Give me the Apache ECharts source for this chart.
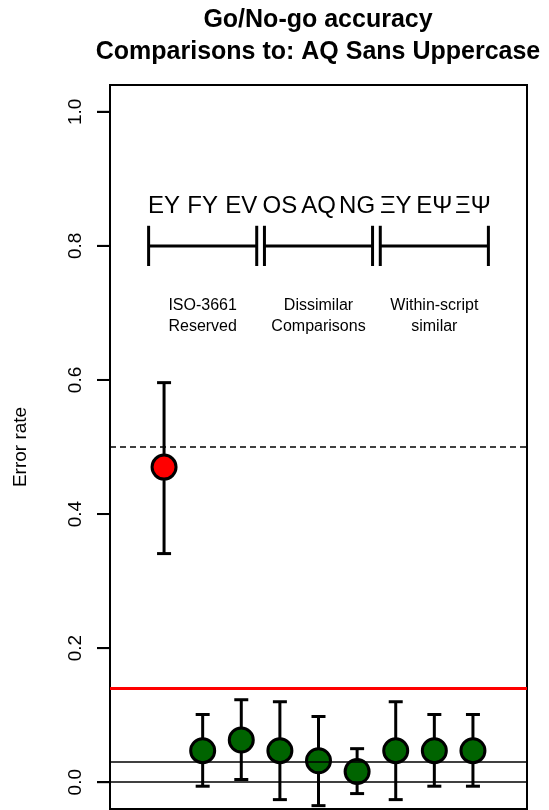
<!DOCTYPE html>
<html>
<head>
<meta charset="utf-8">
<script src="https://cdn.jsdelivr.net/npm/echarts@6/dist/echarts.min.js"></script>
<style>
  html, body { margin: 0; padding: 0; background: #ffffff; }
  #chart { width: 549px; height: 810px; }
</style>
</head>
<body>
<div id="chart"></div>
<script>
// Comparison pairs, in plotting order (x = 1..9)
const positions = [1, 2, 3, 4, 5, 6, 7, 8, 9];
const pairLabels = ['EY', 'FY', 'EV', 'OS', 'AQ', 'NG', 'ΞY', 'EΨ', 'ΞΨ'];

// Go/No-go error rate per pair with confidence interval bounds
const errorRate = [0.470, 0.047, 0.063, 0.047, 0.032, 0.016, 0.047, 0.047, 0.047];
const ciLower   = [0.341, -0.006, 0.004, -0.026, -0.035, -0.017, -0.026, -0.006, -0.006];
const ciUpper   = [0.596, 0.101, 0.123, 0.120, 0.098, 0.050, 0.120, 0.101, 0.101];
const pointGroup = ['reserved', 'ok', 'ok', 'ok', 'ok', 'ok', 'ok', 'ok', 'ok'];

// Comparison groups: bracket extents and captions
const groupStart = [0.6, 3.6, 6.6];
const groupEnd   = [3.4, 6.4, 9.4];
const groupCenter = [2, 5, 8];
const groupLabels = ['ISO-3661\nReserved', 'Dissimilar\nComparisons', 'Within-script\nsimilar'];
const bracketLevel = 0.8;
const bracketHalf = 0.03;
const pairLabelLevel = 0.859;
const groupLabelLevel = 0.695;

// Reference levels
const chanceLevel = 0.5;
const thresholdLevel = 0.14;
const baselineLevels = [0, 0.03];

// Axis
const yTicks = [0, 0.2, 0.4, 0.6, 0.8, 1.0];
const yMin = -0.04, yMax = 1.04;
const xMin = -0.4, xMax = 10.4;

const FONT = '"Liberation Sans", Arial, Helvetica, sans-serif';
const colorFor = { reserved: '#ff0000', ok: '#006400' };
const TICK_LEN = 13;

const chart = echarts.init(document.getElementById('chart'), null, { renderer: 'canvas' });

const pointData = positions.map((x, i) => ({
  value: [x, errorRate[i]],
  itemStyle: { color: colorFor[pointGroup[i]] }
}));

const errorBarData = positions.map((x, i) => [x, ciLower[i], ciUpper[i]]);
const bracketData = groupStart.map((s, i) => [s, groupEnd[i], bracketLevel]);
const pairTextData = positions.map((x, i) => [x, pairLabelLevel, pairLabels[i]]);
const groupTextData = groupCenter.map((x, i) => [x, groupLabelLevel, groupLabels[i]]);
const tickData = yTicks.map(v => [xMin, v]);

const option = {
  animation: false,
  backgroundColor: '#ffffff',
  graphic: [{
    type: 'text',
    x: 318,
    y: 36,
    style: {
      text: 'Go/No-go accuracy\nComparisons to: AQ Sans Uppercase',
      font: 'bold 25px ' + FONT,
      fill: '#000',
      align: 'center',
      verticalAlign: 'middle',
      lineHeight: 32
    }
  }],
  grid: {
    left: 110, right: 22, top: 85, bottom: 1,
    show: true, borderColor: '#000', borderWidth: 2
  },
  xAxis: {
    type: 'value', min: xMin, max: xMax,
    show: false
  },
  yAxis: {
    type: 'value', min: yMin, max: yMax,
    name: 'Error rate',
    nameLocation: 'middle',
    nameRotate: 90,
    nameGap: 80,
    nameTextStyle: { fontFamily: FONT, fontSize: 19, color: '#000' },
    axisLine: { show: false, onZero: false },
    splitLine: { show: false },
    axisTick: {
      show: true, length: TICK_LEN, customValues: yTicks,
      lineStyle: { color: '#000', width: 2 }
    },
    axisLabel: {
      customValues: yTicks, rotate: 90, margin: 25,
      fontFamily: FONT, fontSize: 19, color: '#000',
      formatter: v => v.toFixed(1)
    }
  },
  series: [
    {
      // outward tick marks on the left edge of the plot box
      type: 'custom',
      clip: false,
      z: 10,
      data: tickData,
      renderItem: (params, api) => {
        const p = api.coord([api.value(0), api.value(1)]);
        return {
          type: 'line',
          shape: { x1: p[0] - TICK_LEN, y1: p[1], x2: p[0], y2: p[1] },
          style: { stroke: '#000', lineWidth: 2 }
        };
      }
    },
    {
      // group brackets
      type: 'custom',
      silent: true,
      z: 2,
      data: bracketData,
      renderItem: (params, api) => {
        const a = api.coord([api.value(0), api.value(2)]);
        const b = api.coord([api.value(1), api.value(2)]);
        const top = api.coord([api.value(0), api.value(2) + bracketHalf])[1];
        const bot = api.coord([api.value(0), api.value(2) - bracketHalf])[1];
        const st = { stroke: '#000', lineWidth: 3 };
        return {
          type: 'group',
          children: [
            { type: 'line', shape: { x1: a[0], y1: a[1], x2: b[0], y2: b[1] }, style: st },
            { type: 'line', shape: { x1: a[0], y1: top, x2: a[0], y2: bot }, style: st },
            { type: 'line', shape: { x1: b[0], y1: top, x2: b[0], y2: bot }, style: st }
          ]
        };
      }
    },
    {
      // pair labels above the brackets
      type: 'custom',
      silent: true,
      z: 2,
      data: pairTextData,
      renderItem: (params, api) => {
        const p = api.coord([api.value(0), api.value(1)]);
        return {
          type: 'text', x: p[0], y: p[1],
          style: {
            text: pairTextData[params.dataIndex][2],
            font: '24px ' + FONT, fill: '#000',
            align: 'center', verticalAlign: 'middle'
          }
        };
      }
    },
    {
      // group captions
      type: 'custom',
      silent: true,
      z: 2,
      data: groupTextData,
      renderItem: (params, api) => {
        const p = api.coord([api.value(0), api.value(1)]);
        return {
          type: 'text', x: p[0], y: p[1],
          style: {
            text: groupTextData[params.dataIndex][2],
            font: '16px ' + FONT, fill: '#000',
            align: 'center', verticalAlign: 'middle', lineHeight: 21
          }
        };
      }
    },
    {
      // confidence interval whiskers
      type: 'custom',
      silent: true,
      z: 3,
      data: errorBarData,
      renderItem: (params, api) => {
        const lo = api.coord([api.value(0), api.value(1)]);
        const hi = api.coord([api.value(0), api.value(2)]);
        const cap = 7;
        const st = { stroke: '#000', lineWidth: 3 };
        return {
          type: 'group',
          children: [
            { type: 'line', shape: { x1: lo[0], y1: lo[1], x2: hi[0], y2: hi[1] }, style: st },
            { type: 'line', shape: { x1: lo[0] - cap, y1: lo[1], x2: lo[0] + cap, y2: lo[1] }, style: st },
            { type: 'line', shape: { x1: hi[0] - cap, y1: hi[1], x2: hi[0] + cap, y2: hi[1] }, style: st }
          ]
        };
      }
    },
    {
      // mean error rate per pair
      type: 'scatter',
      silent: true,
      z: 4,
      symbol: 'circle',
      symbolSize: 24,
      itemStyle: { borderColor: '#000', borderWidth: 3, opacity: 1 },
      data: pointData
    },
    {
      // reference levels
      type: 'scatter',
      silent: true,
      z: 5,
      data: [],
      markLine: {
        silent: true,
        symbol: 'none',
        label: { show: false },
        animation: false,
        data: [
          { yAxis: chanceLevel, lineStyle: { color: '#000', width: 1.5, type: [6, 4] } },
          { yAxis: thresholdLevel, lineStyle: { color: '#ff0000', width: 3, type: 'solid' } },
          ...baselineLevels.map(v => ({ yAxis: v, lineStyle: { color: '#000', width: 1.5, type: 'solid' } }))
        ]
      }
    }
  ]
};

chart.setOption(option);
</script>
</body>
</html>
